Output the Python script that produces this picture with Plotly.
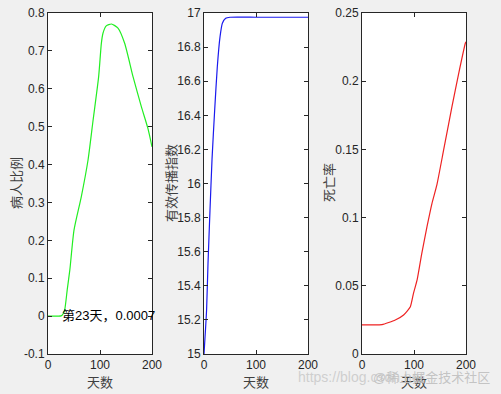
import plotly.graph_objects as go

# ---- data ----
days_ill = [0, 10, 20, 25, 28, 32, 37, 42, 50, 64, 77, 86.5, 97.4, 102.6, 105.6, 112, 122,
            134.6, 147.4, 163.5, 179.5, 192, 200]
ill_ratio = [0, 0, 0, 0.0007, 0.004, 0.016, 0.07, 0.122, 0.227, 0.315, 0.412, 0.515, 0.632,
             0.72, 0.746, 0.766, 0.771, 0.76, 0.72, 0.632, 0.553, 0.496, 0.447]

days_r = [0, 1, 3, 5, 7.7, 11.5, 15.4, 20.5, 25.6, 30.8, 35.3, 41.7, 50, 100, 150, 200]
r_eff = [15.0, 15.05, 15.15, 15.26, 15.53, 15.84, 16.14, 16.43, 16.685, 16.86, 16.94, 16.969,
         16.975, 16.975, 16.975, 16.975]

days_d = [0, 20, 38.5, 64, 80, 93, 99, 106, 115, 125, 134.6, 144, 157, 173, 186, 198.7, 200]
death = [0.0213, 0.0213, 0.0215, 0.0249, 0.0286, 0.0347, 0.0445, 0.0543, 0.0738, 0.0933,
         0.1105, 0.124, 0.1496, 0.1813, 0.2058, 0.2278, 0.229]

x_ticks = [0, 100, 200]
x_ticktext = ["0", "100", "200"]
y1_ticks = [-0.1, 0, 0.1, 0.2, 0.3, 0.4, 0.5, 0.6, 0.7, 0.8]
y1_ticktext = ["-0.1", "0", "0.1", "0.2", "0.3", "0.4", "0.5", "0.6", "0.7", "0.8"]
y2_ticks = [15, 15.2, 15.4, 15.6, 15.8, 16, 16.2, 16.4, 16.6, 16.8, 17]
y2_ticktext = ["15", "15.2", "15.4", "15.6", "15.8", "16", "16.2", "16.4", "16.6", "16.8", "17"]
y3_ticks = [0, 0.05, 0.1, 0.15, 0.2, 0.25]
y3_ticktext = ["0", "0.05", "0.1", "0.15", "0.2", "0.25"]

x_title = "天数"
y_titles = ["病人比例", "有效传播指数", "死亡率"]
annot_day = 23
annot_val = 0.0007
annot_text = "第23天，0.0007"

# ---- figure ----
W, H = 501, 394
fig = go.Figure()
fig.add_trace(go.Scatter(x=days_ill, y=ill_ratio, mode="lines", xaxis="x", yaxis="y",
                         line=dict(color="#22ee22", width=1.2, shape="spline", smoothing=0.6)))
fig.add_trace(go.Scatter(x=days_r, y=r_eff, mode="lines", xaxis="x2", yaxis="y2",
                         line=dict(color="#1a1aee", width=1.2, shape="spline", smoothing=0.5)))
fig.add_trace(go.Scatter(x=days_d, y=death, mode="lines", xaxis="x3", yaxis="y3",
                         line=dict(color="#ee2222", width=1.2, shape="spline", smoothing=0.5)))

tick_font = dict(family="Liberation Sans, Arial, sans-serif", size=12, color="#262626")
ax_common = dict(showline=True, linecolor="#262626", linewidth=1, mirror="ticks",
                 ticks="inside", ticklen=4, tickcolor="#262626", tickwidth=1,
                 showgrid=False, zeroline=False, tickfont=tick_font, fixedrange=True,
                 automargin=False)

px_x = [(48, 152), (204, 308), (362, 466)]
ydom = [(H - 354) / H, (H - 13) / H]

layout = dict(width=W, height=H, autosize=False, margin=dict(l=0, r=0, t=0, b=0, pad=0),
              paper_bgcolor="#f0f0f0", plot_bgcolor="white", showlegend=False,
              template="none")
yranges = [(-0.1, 0.8), (15, 17), (0, 0.25)]
yt = [(y1_ticks, y1_ticktext), (y2_ticks, y2_ticktext), (y3_ticks, y3_ticktext)]
for i in range(3):
    sx = "" if i == 0 else str(i + 1)
    layout["xaxis" + sx] = dict(ax_common, domain=[px_x[i][0] / W, px_x[i][1] / W],
                                range=[0, 200], tickvals=x_ticks, ticktext=x_ticktext,
                                anchor="y" + sx)
    layout["yaxis" + sx] = dict(ax_common, domain=ydom, range=list(yranges[i]),
                                tickvals=yt[i][0], ticktext=yt[i][1], anchor="x" + sx)
fig.update_layout(**layout)

title_font = dict(family="Noto Sans CJK SC, sans-serif", size=13, color="#404040")
ytitle_x = [15, 170, 328]
for i in range(3):
    fig.add_annotation(text=x_title, xref="paper", yref="paper",
                       x=(px_x[i][0] + px_x[i][1]) / 2 / W, y=(H - 381) / H,
                       xanchor="center", yanchor="middle", showarrow=False, font=title_font)
    fig.add_annotation(text=y_titles[i], xref="paper", yref="paper",
                       x=ytitle_x[i] / W, y=(H - 183) / H, textangle=-90,
                       xanchor="center", yanchor="middle", showarrow=False, font=title_font)

fig.add_annotation(text=annot_text, x=annot_day, y=annot_val, xref="x", yref="y",
                   xanchor="left", yanchor="middle", showarrow=False,
                   font=dict(family="Liberation Sans, Noto Sans CJK SC, sans-serif",
                             size=13, color="black"))

# faint watermark
wm_font = dict(family="Liberation Sans, Noto Sans CJK SC, sans-serif", size=14,
               color="rgba(200,200,200,0.85)")
fig.add_annotation(text="https://blog.csdn.net", xref="paper", yref="paper",
                   x=296 / W, y=(H - 377) / H, xanchor="left", yanchor="middle",
                   showarrow=False, font=wm_font)
fig.add_annotation(text="@稀土掘金技术社区", xref="paper", yref="paper",
                   x=492 / W, y=(H - 377) / H, xanchor="right", yanchor="middle",
                   showarrow=False, font=dict(wm_font, size=13, color="rgba(190,190,190,0.9)"))

post = ("var s=document.createElement('style');"
        "s.textContent='html,body{margin:0;padding:0;overflow:hidden;width:%dpx;height:%dpx;}';"
        "document.head.appendChild(s);"
        "var gd=document.getElementById('{plot_id}');"
        "Plotly.relayout(gd,{width:%d,height:%d});" % (W, H, W, H))
fig.write_html("out.html", config={"responsive": False, "displayModeBar": False},
               post_script=post)
